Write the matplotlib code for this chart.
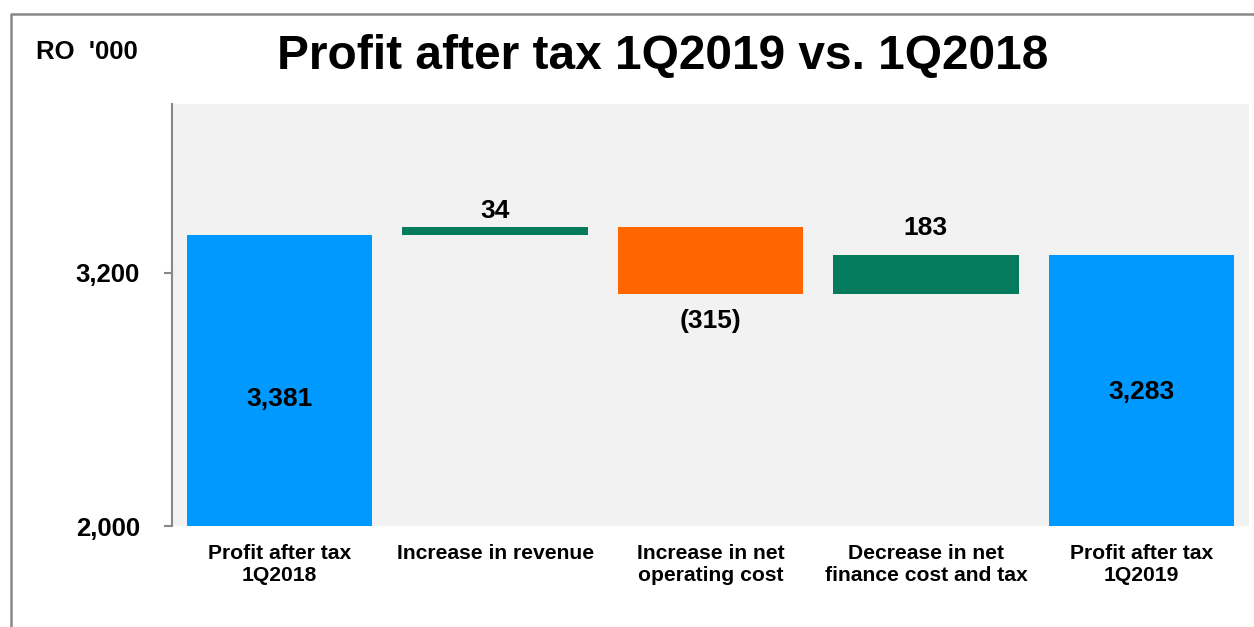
import matplotlib.pyplot as plt
from matplotlib.lines import Line2D
import numpy as np

plt.rcParams["font.family"] = ["Liberation Sans", "DejaVu Sans"]
plt.rcParams["font.weight"] = "bold"

categories = ["Profit after tax\n1Q2018", "Increase in revenue", "Increase in net\noperating cost",
              "Decrease in net\nfinance cost and tax", "Profit after tax\n1Q2019"]
start_value = 3381
changes = [34, -315, 183]
end_value = 3283
value_labels = ["3,381", "34", "(315)", "183", "3,283"]
yticks = [2000, 3200]
ytick_labels = ["2,000", "3,200"]

blue = "#0099FF"
green = "#037B5C"
orange = "#FF6600"

# waterfall bases / heights
bottoms = [0]
heights = [start_value]
running = start_value
for c in changes:
    bottoms.append(running if c >= 0 else running + c)
    heights.append(abs(c))
    running += c
bottoms.append(0)
heights.append(end_value)
colors = [blue] + [green if c >= 0 else orange for c in changes] + [blue]

fig = plt.figure(figsize=(12.54, 6.27), dpi=100)
ax = fig.add_axes([172 / 1254, 101 / 627, 1077 / 1254, 422 / 627])
ax.set_facecolor("#F2F2F2")

x = np.arange(len(categories))
ax.bar(x, heights, bottom=bottoms, width=0.86, color=colors, zorder=2)

ax.set_ylim(2000, 4000)
ax.set_xlim(-0.5, len(categories) - 0.5)
ax.set_yticks(yticks)
ax.set_yticklabels(ytick_labels, fontsize=18.5, fontweight="bold")
ax.set_xticks(x)
ax.set_xticklabels(categories, fontsize=15.2, fontweight="bold", linespacing=1.2)
ax.tick_params(axis="x", length=0, pad=13)
ax.tick_params(axis="y", length=6, width=1.5, color="#888888", pad=17)
for s in ["top", "right", "bottom"]:
    ax.spines[s].set_visible(False)
ax.spines["left"].set_color("#888888")
ax.spines["left"].set_linewidth(1.5)

# labels inside the totals
ax.text(x[0], 2600, value_labels[0], ha="center", va="center", fontsize=19, fontweight="bold")
ax.text(x[4], 2635, value_labels[4], ha="center", va="center", fontsize=19, fontweight="bold")
# labels on the change bars
ax.annotate(value_labels[1], (x[1], bottoms[1] + heights[1]), xytext=(0, 3), textcoords="offset points",
            ha="center", va="bottom", fontsize=19, fontweight="bold")
ax.annotate(value_labels[2], (x[2], bottoms[2]), xytext=(0, -11), textcoords="offset points",
            ha="center", va="top", fontsize=19, fontweight="bold")
ax.annotate(value_labels[3], (x[3], bottoms[3] + heights[3]), xytext=(0, 11), textcoords="offset points",
            ha="center", va="bottom", fontsize=19, fontweight="bold")

fig.text(663 / 1254, 1 - 56 / 627, "Profit after tax 1Q2019 vs. 1Q2018", ha="center", va="center",
         fontsize=34.5, fontweight="bold")
fig.text(36 / 1254, 1 - 52 / 627, "RO  '000", ha="left", va="center", fontsize=18.5, fontweight="bold")

# outer frame
fig.add_artist(Line2D([11 / 1254, 11 / 1254, 1.0], [0.0, 1 - 14 / 627, 1 - 14 / 627],
                      transform=fig.transFigure, color="#888888", linewidth=1.8))

plt.savefig("out.png", dpi=100)
plt.close()
